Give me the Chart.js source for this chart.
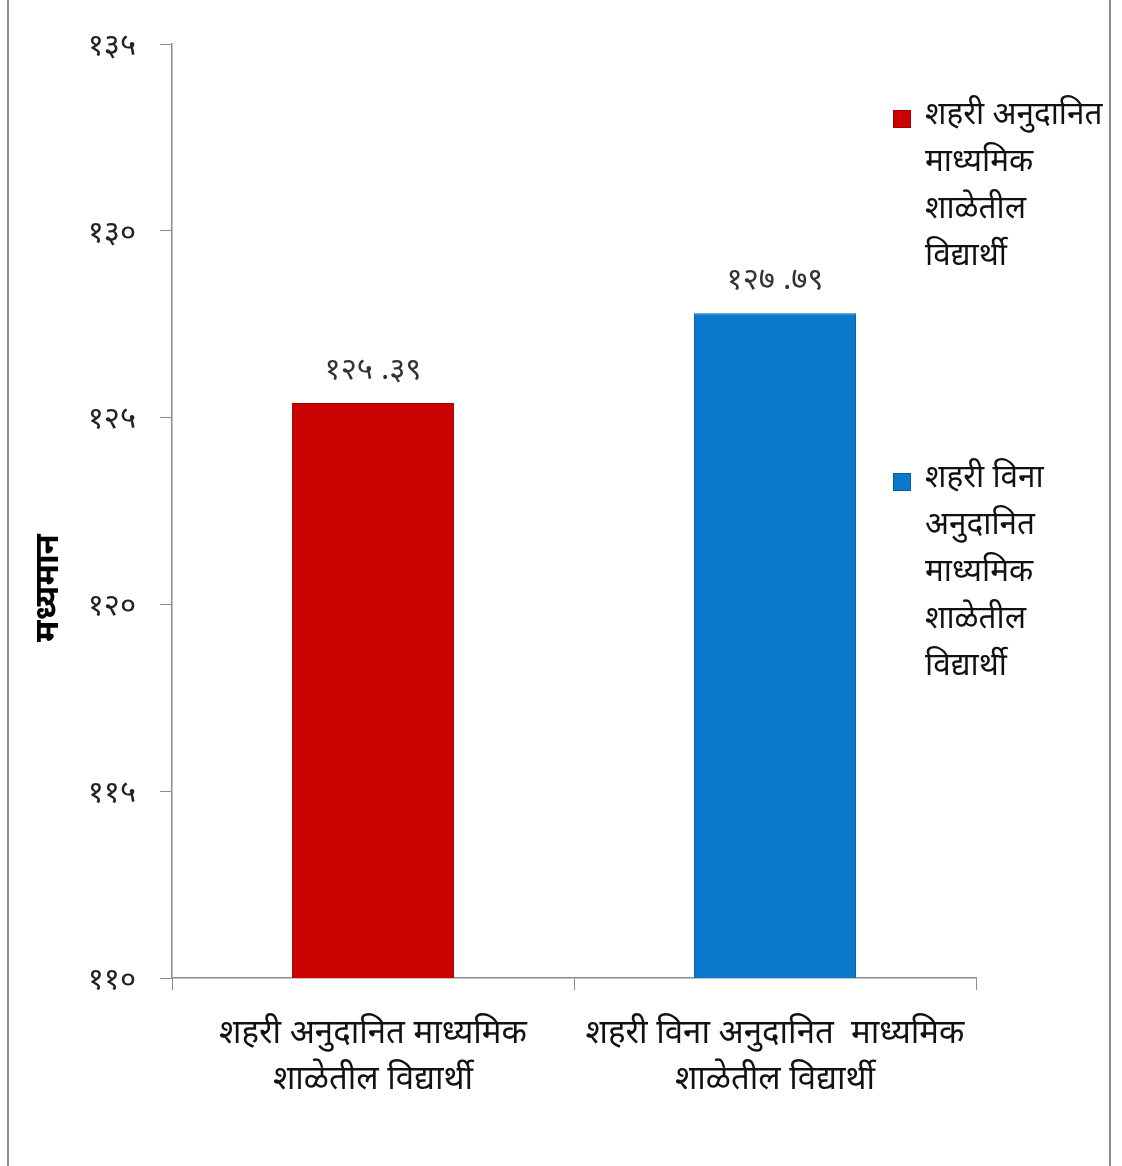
<!DOCTYPE html>
<html>
<head>
<meta charset="utf-8">
<script src="https://cdn.jsdelivr.net/npm/chart.js@4"></script>
<style>
  html, body { margin: 0; padding: 0; background: #fff; }
  .frame { position: relative; width: 1122px; height: 1166px; }
  .frame::before, .frame::after {
    content: ''; position: absolute; top: 0; bottom: 0; width: 2px; background: #8c8c8c;
  }
  .frame::before { left: 7px; }
  .frame::after { left: 1109px; }
  canvas { display: block; }
</style>
</head>
<body>
<div class="frame">
  <canvas id="chart" width="1122" height="1166"></canvas>
</div>
<script>
const categories = [
    ['शहरी अनुदानित माध्यमिक', 'शाळेतील विद्यार्थी'],
    ['शहरी विना अनुदानित  माध्यमिक', 'शाळेतील विद्यार्थी']
];
const meanValues = [125.39, 127.79];
const valueLabels = ['१२५ .३९', '१२७ .७९'];
const legendLabels = [
    ['शहरी अनुदानित', 'माध्यमिक', 'शाळेतील', 'विद्यार्थी'],
    ['शहरी विना', 'अनुदानित', 'माध्यमिक', 'शाळेतील', 'विद्यार्थी']
];
const yTitle = 'मध्यमान';
const yMin = 110;
const yMax = 135;
const yStep = 5;

const barColors = ['#cc0202', '#0a78cc'];
const barBorders = ['#a00000', '#075c9e'];
const devDigits = '०१२३४५६७८९';
const toDev = n => String(n).replace(/[0-9]/g, d => devDigits[+d]);

const FONT = "'Noto Sans Devanagari', 'Lohit Devanagari', 'Mangal', 'Noto Sans', sans-serif";

const extras = {
    id: 'extras',
    afterDatasetsDraw(chart) {
        const ctx = chart.ctx;
        const meta = chart.getDatasetMeta(0);
        ctx.save();
        // value labels above the bars
        ctx.fillStyle = '#333';
        ctx.font = '31px ' + FONT;
        ctx.textAlign = 'center';
        ctx.textBaseline = 'middle';
        meta.data.forEach((bar, i) => {
            ctx.fillText(valueLabels[i], bar.x, bar.y - 30);
        });
        // y axis title
        ctx.save();
        ctx.translate(52, 588);
        ctx.rotate(-Math.PI / 2);
        ctx.font = 'bold 33px ' + FONT;
        ctx.fillStyle = '#000';
        ctx.textAlign = 'center';
        ctx.textBaseline = 'middle';
        ctx.fillText(yTitle, 0, 0);
        ctx.restore();
        // legend
        const tops = [118, 481];
        ctx.font = '31.5px ' + FONT;
        ctx.textAlign = 'left';
        ctx.textBaseline = 'middle';
        legendLabels.forEach((lines, i) => {
            ctx.fillStyle = barColors[i];
            ctx.fillRect(893, tops[i] - 8, 18, 18);
            ctx.strokeStyle = barBorders[i];
            ctx.lineWidth = 1;
            ctx.strokeRect(893.5, tops[i] - 7.5, 17, 17);
            ctx.fillStyle = '#111';
            lines.forEach((t, j) => ctx.fillText(t, 925, tops[i] + j * 47));
        });
        ctx.restore();
    }
};

new Chart(document.getElementById('chart'), {
    type: 'bar',
    data: {
        labels: categories,
        datasets: [{
            data: meanValues,
            backgroundColor: barColors,
            borderColor: barBorders,
            borderWidth: 1,
            barPercentage: 0.8,
            categoryPercentage: 0.504
        }]
    },
    options: {
        responsive: false,
        animation: false,
        layout: { padding: { top: 44, right: 146, left: 0, bottom: 0 } },
        plugins: {
            legend: { display: false },
            tooltip: { enabled: false }
        },
        scales: {
            y: {
                min: yMin,
                max: yMax,
                afterFit: s => { s.width = 172; },
                ticks: {
                    stepSize: yStep,
                    padding: 24,
                    labelOffset: 5,
                    color: '#222',
                    font: { size: 31, family: FONT },
                    callback: v => toDev(v)
                },
                grid: { drawOnChartArea: false, tickLength: 12, color: '#8c8c8c' },
                border: { color: '#8c8c8c', width: 1.5 }
            },
            x: {
                afterFit: s => { s.height = 188; },
                ticks: {
                    padding: 23,
                    color: '#111',
                    font: { size: 33, family: FONT, lineHeight: 1.42 }
                },
                grid: { drawOnChartArea: false, tickLength: 12, color: '#8c8c8c', offset: true },
                border: { color: '#8c8c8c', width: 1.5 }
            }
        }
    },
    plugins: [extras]
});
</script>
</body>
</html>
